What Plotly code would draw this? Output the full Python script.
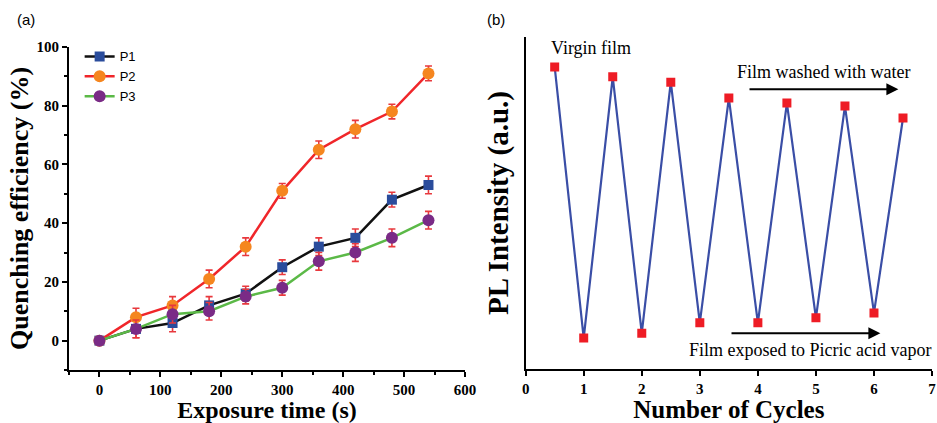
import plotly.graph_objects as go

# ---- Panel (a) data ----
time_s = [0, 60, 120, 180, 240, 300, 360, 420, 480, 540]
p1 = [0, 4, 6, 12, 16, 25, 32, 35, 48, 53]
p2 = [0, 8, 12, 21, 32, 51, 65, 72, 78, 91]
p3 = [0, 4, 9, 10, 15, 18, 27, 30, 35, 41]
p1_err = [0, 3, 3, 3, 2.5, 2.5, 3, 3, 2.5, 3]
p2_err = [0, 3, 3, 3, 3, 2.5, 3, 3, 2.5, 2.5]
p3_err = [0, 3, 3, 3, 2.5, 2.5, 3, 3, 3, 3]

# ---- Panel (b) data ----
cycles = [0.5, 1, 1.5, 2, 2.5, 3, 3.5, 4, 4.5, 5, 5.5, 6, 6.5]
pl_intensity = [91, 9.3, 88, 10.8, 86.4, 13.9, 81.6, 13.9, 80.1, 15.4, 79.2, 16.9, 75.6]

serif = "Liberation Serif, Times New Roman, serif"
sans = "Liberation Sans, Arial, sans-serif"
err_color = "#e8383d"

fig = go.Figure()

series = [
    ("P1", p1, p1_err, "#111111", "#2a4c9c", "square", 10),
    ("P2", p2, p2_err, "#f0262a", "#f5861f", "circle", 12),
    ("P3", p3, p3_err, "#5bb947", "#7a2b86", "circle", 12),
]
for name, ys, errs, lc, mc, sym, ms in series:
    fig.add_trace(go.Scatter(
        x=time_s, y=ys, name=name, mode="lines+markers",
        line=dict(color=lc, width=2.5),
        marker=dict(color=mc, symbol=sym, size=ms),
        error_y=dict(type="data", array=errs, visible=True, color=err_color,
                     thickness=1.6, width=3.5),
        xaxis="x", yaxis="y",
    ))

fig.add_trace(go.Scatter(
    x=cycles, y=pl_intensity, mode="lines+markers", showlegend=False,
    line=dict(color="#3a4ea6", width=2.2),
    marker=dict(color="#ee1c25", symbol="square", size=9),
    xaxis="x2", yaxis="y2",
))

axis_common = dict(
    showgrid=False, zeroline=False, showline=True, linecolor="black",
    linewidth=2, ticks="outside", tickcolor="black", tickwidth=2, ticklen=5,
    mirror=False, automargin=False,
    tickfont=dict(family=serif, size=15, color="black", weight="bold"),
)

fig.update_layout(
    width=937, height=423,
    margin=dict(l=0, r=0, t=0, b=0),
    paper_bgcolor="white", plot_bgcolor="white",
    showlegend=True,
    legend=dict(x=0.085, y=0.902, xanchor="left", yanchor="top",
                font=dict(family=sans, size=13, color="black"),
                bgcolor="rgba(0,0,0,0)", tracegroupgap=0),
    xaxis=dict(axis_common, domain=[0.0736, 0.4963], range=[-50, 600],
               tickvals=[0, 100, 200, 300, 400, 500, 600],
               minor=dict(tickvals=[-50, 50, 150, 250, 350, 450, 550], ticks="outside",
                          ticklen=3, tickcolor="black", tickwidth=1.5),
               title=dict(text="<b>Exposure time (s)</b>", standoff=6,
                          font=dict(family=serif, size=24, color="black")),
               anchor="y"),
    yaxis=dict(axis_common, domain=[0.1253, 0.889], range=[-10, 100],
               tickvals=[0, 20, 40, 60, 80, 100],
               minor=dict(tickvals=[-10, 10, 30, 50, 70, 90], ticks="outside",
                          ticklen=3, tickcolor="black", tickwidth=1.5),
               title=dict(text="<b>Quenching efficiency (%)</b>", standoff=0,
                          font=dict(family=serif, size=26, color="black")),
               anchor="x"),
    xaxis2=dict(axis_common, domain=[0.561, 0.9947], range=[0, 7],
                tickvals=[0, 1, 2, 3, 4, 5, 6, 7],
                title=dict(text="<b>Number of Cycles</b>", standoff=9,
                           font=dict(family=serif, size=25, color="black")),
                anchor="y2"),
    yaxis2=dict(axis_common, domain=[0.1277, 0.9125], range=[0, 100],
                showticklabels=False, ticks="",
                title=dict(text="<b>PL Intensity (a.u.)</b>", standoff=6,
                           font=dict(family=serif, size=29, color="black")),
                anchor="x2"),
)

ann_font = dict(family=serif, size=18, color="black")
fig.add_annotation(text="(a)", x=0.016, y=0.955, xref="paper", yref="paper",
                   xanchor="left", yanchor="middle", showarrow=False,
                   font=dict(family=sans, size=15, color="black"))
fig.add_annotation(text="(b)", x=0.518, y=0.955, xref="paper", yref="paper",
                   xanchor="left", yanchor="middle", showarrow=False,
                   font=dict(family=sans, size=15, color="black"))
fig.add_annotation(text="Virgin film", x=0.4, y=96.7, xref="x2", yref="y2",
                   xanchor="left", yanchor="middle", showarrow=False, font=ann_font)
fig.add_annotation(text="Film washed with water", x=5.13, y=89.5, xref="x2", yref="y2",
                   xanchor="center", yanchor="middle", showarrow=False, font=ann_font)
fig.add_annotation(text="Film exposed to Picric acid vapor", x=4.9, y=5.7, xref="x2",
                   yref="y2", xanchor="center", yanchor="middle", showarrow=False,
                   font=ann_font)
# arrows
fig.add_annotation(x=6.42, y=84.3, ax=3.83, ay=84.3, xref="x2", yref="y2",
                   axref="x2", ayref="y2", showarrow=True, arrowhead=2,
                   arrowsize=1.2, arrowwidth=2, arrowcolor="black", text="")
fig.add_annotation(x=6.11, y=10.8, ax=3.52, ay=10.8, xref="x2", yref="y2",
                   axref="x2", ayref="y2", showarrow=True, arrowhead=2,
                   arrowsize=1.2, arrowwidth=2, arrowcolor="black", text="")

fig.write_html("out.html")
